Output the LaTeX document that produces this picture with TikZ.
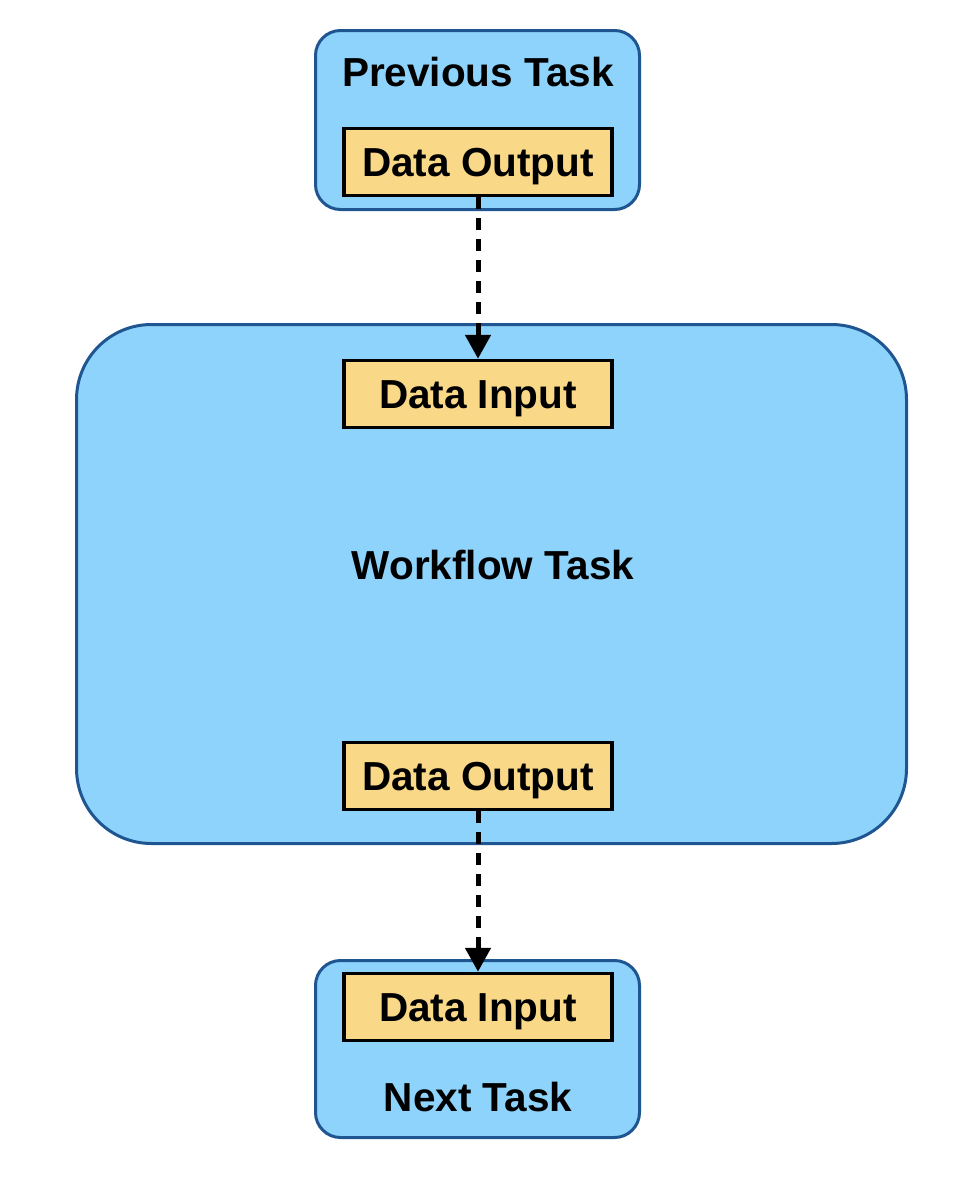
\documentclass[tikz,border=0pt]{standalone}
\usepackage{fontspec}
\setmainfont{Liberation Sans}
\usetikzlibrary{arrows.meta, positioning}
\definecolor{taskblue}{HTML}{8DD3FB}
\definecolor{taskedge}{HTML}{1F5591}
\definecolor{datayellow}{HTML}{F9D888}

\begin{document}
\begin{tikzpicture}[x=1pt, y=-1pt, >=Stealth, font=\fontsize{40.5}{48}\selectfont\bfseries]
  % Define styles
  \tikzstyle{task} = [rectangle, rounded corners=25pt, minimum width=324pt, minimum height=179pt, draw=taskedge, line width=3pt, fill=taskblue]
  \tikzstyle{data} = [rectangle, minimum width=268pt, minimum height=67pt, inner sep=0pt, text height=29pt, text depth=0pt, text centered, draw=black, line width=3.5pt, fill=datayellow]
  \tikzstyle{title} = [inner sep=0pt, text height=29pt, text depth=0pt, text centered]
  \tikzstyle{arrow} = [line width=5pt, dash pattern=on 12pt off 9pt, -{Triangle[length=24pt, width=25pt]}]

  \useasboundingbox (0,0) rectangle (976,1184);

  % Place nodes
  \node [task] (prev) at (477.5,120) {};
  \node [title] (prevtitle) at (478,72) {Previous Task};
  \node [data] (prevout) at (478,162) {Data Output};

  \node [task, rounded corners=75pt, minimum width=830pt, minimum height=519pt] (work) at (491.5,584) {};
  \node [data] (workin) at (478,394) {Data Input};
  \node [title] (worktitle) at (493,565) {Workflow Task};
  \node [data] (workout) at (478,776) {Data Output};

  \node [task, minimum height=177pt] (next) at (477.5,1049) {};
  \node [data] (nextin) at (478,1007) {Data Input};
  \node [title, below=40pt of nextin.south] (nexttitle) {Next Task};

  % Draw edges
  \draw [arrow] (prevout.south) -- (workin.north);
  \draw [arrow] (workout.south) -- (nextin.north);
\end{tikzpicture}
\end{document}
